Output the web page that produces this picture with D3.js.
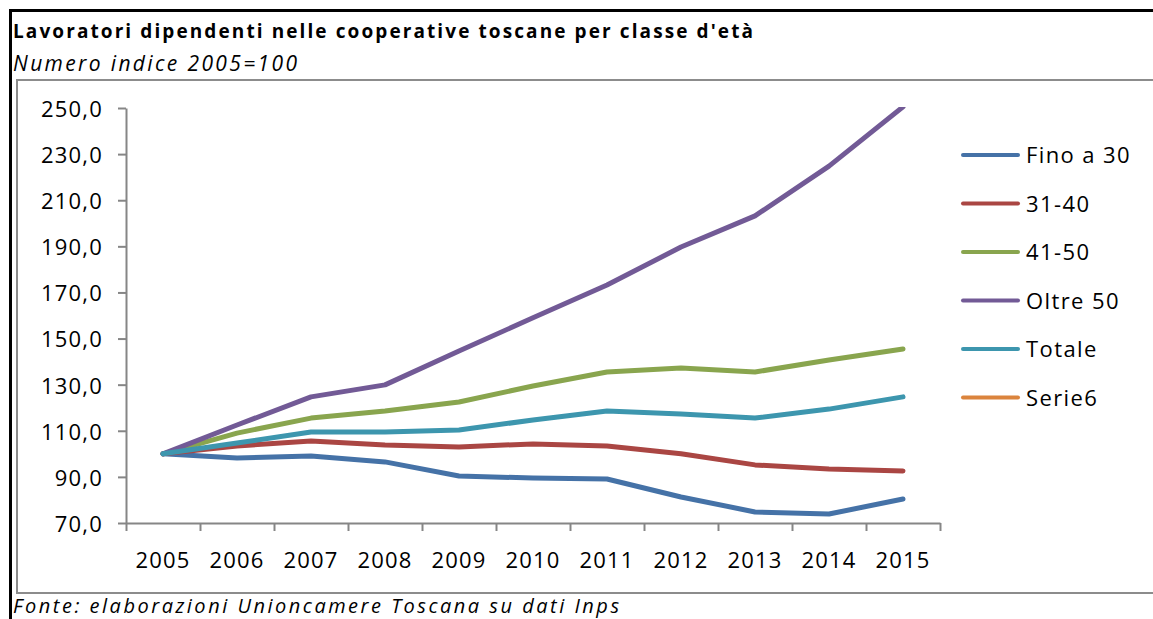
<!DOCTYPE html>
<html>
<head>
<meta charset="utf-8">
<script src="https://cdn.jsdelivr.net/npm/d3@7"></script>
<style>
  body { margin: 0; background: #fff; }
  text { font-family: "Open Sans", sans-serif; }
</style>
</head>
<body>
<div id="chart"></div>
<script>
// Data
const years = ["2005", "2006", "2007", "2008", "2009", "2010", "2011", "2012", "2013", "2014", "2015"];
const fino30 = [100, 98.2, 99.1, 96.5, 90.4, 89.5, 89.1, 81.3, 74.8, 73.9, 80.4];
const c3140 = [100, 103.4, 105.6, 103.8, 103.0, 104.3, 103.4, 100.0, 95.2, 93.4, 92.6];
const c4150 = [100, 109.0, 115.5, 118.6, 122.5, 129.4, 135.5, 137.2, 135.5, 140.7, 145.5];
const oltre50 = [100, 112.5, 124.7, 129.9, 144.6, 159.0, 173.2, 189.7, 203.2, 224.8, 250.5];
const totale = [100, 104.7, 109.5, 109.5, 110.3, 114.7, 118.6, 117.3, 115.5, 119.4, 124.7];
const serie6 = [];
const yTicks = [70, 90, 110, 130, 150, 170, 190, 210, 230, 250];

const series = [
    { name: "Fino a 30", values: fino30, color: "#4572A7" },
    { name: "31-40", values: c3140, color: "#AA4643" },
    { name: "41-50", values: c4150, color: "#89A54E" },
    { name: "Oltre 50", values: oltre50, color: "#725A96" },
    { name: "Totale", values: totale, color: "#3D96AE" },
    { name: "Serie6", values: serie6, color: "#DB843D" }
];

const W = 1153, H = 619;
const plot = { left: 126, right: 940, top: 108, bottom: 523 };

const svg = d3.select("#chart").append("svg")
    .attr("width", W)
    .attr("height", H);

// Outer black frame and inner grey chart area
svg.append("rect")
    .attr("x", 10.5).attr("y", 10.5)
    .attr("width", W + 20).attr("height", H + 20)
    .attr("fill", "none").attr("stroke", "#000").attr("stroke-width", 3);

svg.append("rect")
    .attr("x", 17).attr("y", 80)
    .attr("width", W + 20).attr("height", 513)
    .attr("fill", "none").attr("stroke", "#8c8c8c").attr("stroke-width", 2);

// Titles (stretched to the reference widths)
svg.append("text")
    .attr("x", 13).attr("y", 38)
    .attr("font-size", 19).attr("font-weight", "bold")
    .attr("textLength", 740).attr("lengthAdjust", "spacing")
    .text("Lavoratori dipendenti nelle cooperative toscane per classe d'età");

svg.append("text")
    .attr("x", 13).attr("y", 71)
    .attr("font-size", 21).attr("font-style", "italic")
    .attr("textLength", 284).attr("lengthAdjust", "spacing")
    .text("Numero indice 2005=100");

svg.append("text")
    .attr("x", 13).attr("y", 613)
    .attr("font-size", 20).attr("font-style", "italic")
    .attr("textLength", 606).attr("lengthAdjust", "spacing")
    .text("Fonte: elaborazioni Unioncamere Toscana su dati Inps");

// Scales
const x = d3.scaleBand().domain(years).range([plot.left, plot.right]);
const xEdge = d3.scaleLinear().domain([0, years.length]).range([plot.left, plot.right]);
const y = d3.scaleLinear().domain([70, 250]).range([plot.bottom, plot.top]);

// Y axis
const yAxis = svg.append("g")
    .attr("transform", `translate(${plot.left},0)`)
    .call(d3.axisLeft(y)
        .tickValues(yTicks)
        .tickSize(8)
        .tickSizeOuter(0)
        .tickPadding(17)
        .tickFormat(d => d3.format(".1f")(d).replace(".", ",")));

// X axis: tick marks at category boundaries, labels at centres
const xTicks = svg.append("g")
    .attr("transform", `translate(0,${plot.bottom})`)
    .call(d3.axisBottom(xEdge)
        .tickValues(d3.range(years.length + 1))
        .tickSize(8)
        .tickSizeOuter(0)
        .tickFormat(""));

const xLabels = svg.append("g")
    .attr("transform", `translate(0,${plot.bottom})`)
    .call(d3.axisBottom(x).tickSize(0));
xLabels.select(".domain").remove();
xLabels.selectAll("text").attr("y", 45).attr("dy", null);

[yAxis, xTicks].forEach(g => {
    g.select(".domain").attr("stroke", "#868686").attr("stroke-width", 2);
    g.selectAll(".tick line").attr("stroke", "#868686").attr("stroke-width", 2);
});
[yAxis, xLabels].forEach(g => {
    g.selectAll("text")
        .attr("font-family", "'Open Sans', sans-serif")
        .attr("font-size", 22)
        .attr("letter-spacing", 1.2)
        .attr("fill", "#000");
});
yAxis.selectAll("text").attr("dy", "0.38em").attr("dx", 2);

// Lines
const line = d3.line()
    .x((d, i) => x(years[i]) + x.bandwidth() / 2)
    .y(d => y(d));

svg.append("defs").append("clipPath").attr("id", "clip")
    .append("rect")
    .attr("x", plot.left).attr("y", plot.top - 1)
    .attr("width", plot.right - plot.left).attr("height", plot.bottom - plot.top + 10);

svg.append("g")
    .attr("clip-path", "url(#clip)")
    .selectAll("path")
    .data(series.filter(s => s.values.length))
    .join("path")
    .attr("d", d => line(d.values))
    .attr("fill", "none")
    .attr("stroke", d => d.color)
    .attr("stroke-width", 5)
    .attr("stroke-linejoin", "round")
    .attr("stroke-linecap", "round");

// Legend
const legend = svg.append("g")
    .selectAll("g")
    .data(series)
    .join("g")
    .attr("transform", (d, i) => `translate(963,${155 + i * 48.5})`);

legend.append("line")
    .attr("x1", 0).attr("x2", 55)
    .attr("stroke", d => d.color)
    .attr("stroke-width", 4)
    .attr("stroke-linecap", "round");

legend.append("text")
    .attr("x", 63).attr("y", 8)
    .attr("font-size", 22)
    .attr("letter-spacing", 1.4)
    .text(d => d.name);
</script>
</body>
</html>
